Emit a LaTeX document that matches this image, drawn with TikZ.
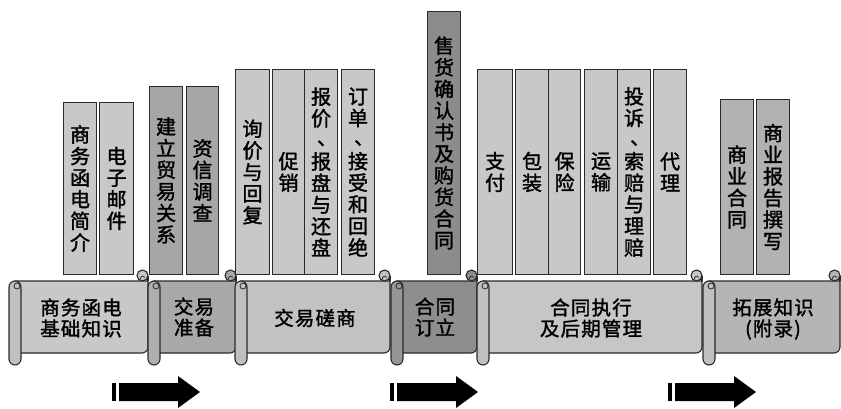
\documentclass[tikz,border=0pt]{standalone}
\usepackage{fontspec}
\newfontfamily\cjk{Noto Sans CJK SC}[FakeBold=1.6]
\definecolor{outl}{HTML}{2A2A2A}
\definecolor{lightg}{HTML}{C8C8C8}
\definecolor{darkA}{HTML}{A6A6A6}
\definecolor{darkB}{HTML}{8C8C8C}
\definecolor{midg}{HTML}{B2B2B2}
\definecolor{sA}{HTML}{C8C8C8}
\definecolor{sB}{HTML}{A9A9A9}
\definecolor{sC}{HTML}{C2C2C2}
\definecolor{sD}{HTML}{8E8E8E}
\definecolor{sE}{HTML}{C6C6C6}
\definecolor{sF}{HTML}{B5B5B5}
\definecolor{rA}{HTML}{C0C0C0}
\definecolor{rB}{HTML}{AFAFAF}
\definecolor{rD}{HTML}{969696}
\newcommand\vfont{\cjk\fontsize{20}{21.6}\selectfont}
\newcommand\hfont{\cjk\addfontfeature{LetterSpace=6}\fontsize{19.5}{21}\selectfont}
\newcommand\dun{\makebox[1em][l]{\hspace{0.3em}\raisebox{0.12em}{、}}}
\tikzset{
  book/.style={draw=outl, line width=1.1pt, anchor=south west, inner sep=0pt,
    minimum width=#1, align=center, font=\vfont, text=black},
  scrolltxt/.style={align=center, font=\hfont, text=black, inner sep=0pt},
  edge/.style={draw=outl, line width=1.1pt},
  arrowfill/.style={fill=black, draw=none}
}
% #1 roll left, #2 body right, #3 body colour, #4 roll colour
\newcommand\scrollseg[4]{%
  \filldraw[edge, fill=#3] (#1+6,281) -- (#2,281) -- (#2,347)
     .. controls (#2,350.3) and (#2-2.7,353) .. (#2-6,353) -- (#1+6,353) -- cycle;
  \draw[edge] (#2,275.5) -- (#2,281);
  \filldraw[edge, fill=#3] (#2-5.5,275.5) circle[radius=5.5];
  \draw[edge, line width=0.8pt] (#2-7.5,279) .. controls (#2-8,276) and (#2-4,275) .. (#2-3.5,277.5);
  \filldraw[edge, fill=#4, rounded corners=6] (#1,281) rectangle (#1+12,365);
  \filldraw[edge, fill=#4, line width=0.8pt] (#1+8,286) circle[radius=3];
}
\newcommand\bigarrow[1]{%
  \fill[arrowfill] (#1,383) rectangle (#1+4,401);
  \fill[arrowfill] (#1+7,383) -- (#1+66,383) -- (#1+66,376) -- (#1+88,392)
     -- (#1+66,408) -- (#1+66,401) -- (#1+7,401) -- cycle;
}
\begin{document}
\begin{tikzpicture}[x=1pt,y=-1pt]
\useasboundingbox[fill=white] (0,0) rectangle (841,409);

% books
\node[book=33pt, minimum height=172pt, fill=lightg] (b1) at (63,275) {商\\务\\函\\电\\简\\介};
\node[book=34pt, minimum height=172pt, fill=lightg] (b2) at (99,275) {电\\子\\邮\\件};
\node[book=33pt, minimum height=188pt, fill=darkA] (b3) at (149,275) {建\\立\\贸\\易\\关\\系};
\node[book=32pt, minimum height=188pt, fill=darkA] (b4) at (186,275) {资\\信\\调\\查};
\node[book=34pt, minimum height=205pt, fill=lightg] (b5) at (235,275) {询\\价\\与\\回\\复};
\node[book=32pt, minimum height=205pt, fill=lightg] (b6) at (272,275) {促\\销};
\node[book=33pt, minimum height=205pt, fill=lightg] (b7) at (304,275) {报\\价\\\dun\\报\\盘\\与\\还\\盘};
\node[book=33pt, minimum height=205pt, fill=lightg] (b8) at (341,275) {订\\单\\\dun\\接\\受\\和\\回\\绝};
\node[book=33pt, minimum height=263pt, fill=darkB] (b9) at (427,275) {售\\货\\确\\认\\书\\及\\购\\货\\合\\同};
\node[book=35pt, minimum height=205pt, fill=lightg] (b10) at (477,275) {支\\付};
\node[book=33pt, minimum height=205pt, fill=lightg] (b11) at (515,275) {包\\装};
\node[book=32pt, minimum height=205pt, fill=lightg] (b12) at (548,275) {保\\险};
\node[book=33pt, minimum height=205pt, fill=lightg] (b13) at (584,275) {运\\输};
\node[book=33pt, minimum height=205pt, fill=lightg] (b14) at (617,275) {投\\诉\\\dun\\索\\赔\\与\\理\\赔};
\node[book=33pt, minimum height=205pt, fill=lightg] (b15) at (653,275) {代\\理};
\node[book=33pt, minimum height=175pt, fill=midg] (b16) at (720,275) {商\\业\\合\\同};
\node[book=33pt, minimum height=175pt, fill=midg] (b17) at (756,275) {商\\业\\报\\告\\撰\\写};

% scrolls
\scrollseg{9}{148}{sA}{rA}
\scrollseg{148}{236}{sB}{rB}
\scrollseg{235}{390}{sC}{rA}
\scrollseg{391}{477}{sD}{rD}
\scrollseg{477}{702}{sE}{rA}
\scrollseg{703}{840}{sF}{rA}

\node[scrolltxt] (s1) at (81,318) {商务函电\\基础知识};
\node[scrolltxt] (s2) at (194,317) {交易\\准备};
\node[scrolltxt] (s3) at (315,318) {交易磋商};
\node[scrolltxt] (s4) at (435,317) {合同\\订立};
\node[scrolltxt] (s5) at (591,318) {合同执行\\及后期管理};
\node[scrolltxt] (s6) at (773,319) {拓展知识\\(附录)};

% arrows
\bigarrow{112}
\bigarrow{390}
\bigarrow{668}
\end{tikzpicture}
\end{document}
